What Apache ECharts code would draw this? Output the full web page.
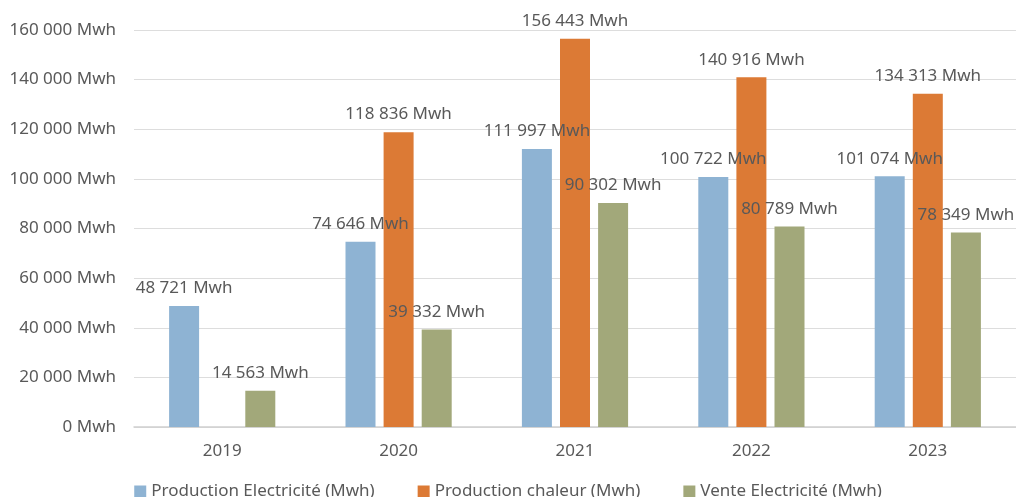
<!DOCTYPE html>
<html><head><meta charset="utf-8">
<script src="https://cdn.jsdelivr.net/npm/echarts@6/dist/echarts.min.js"></script>
<style>html,body{margin:0;padding:0;background:#fff}#c{width:1016px;height:497px}</style>
</head><body><div id="c"></div>
<script>
const categories = ['2019','2020','2021','2022','2023'];
const seriesNames = ['Production Electricité (Mwh)','Production chaleur (Mwh)','Vente Electricité (Mwh)'];
const prodElec = [48721, 74646, 111997, 100722, 101074];
const prodChaleur = [null, 118836, 156443, 140916, 134313];
const venteElec = [14563, 39332, 90302, 80789, 78349];
const colors = ['#8EB3D3','#DC7A35','#A2A87A'];

function fmt(v){
  return String(Math.round(v)).replace(/\B(?=(\d{3})+(?!\d))/g,' ') + ' Mwh';
}
const font = 'Noto Sans';
const fs = 17;
const txt = '#595959';
const chart = echarts.init(document.getElementById('c'));
const mk = (name, data, i) => ({
  name, type:'bar', data, barWidth:30, barGap:'27%',
  itemStyle:{color:colors[i]},
  label:{show:true, position:'top', distance:9, color:txt, fontSize:fs, fontFamily:font,
    formatter:p=>fmt(p.value)}
});
chart.setOption({
  animation:false,
  grid:{left:134, right:0, top:30, bottom:70, containLabel:false},
  legend:{top:478, left:'center', icon:'rect', itemWidth:12, itemHeight:12, itemGap:43,
    textStyle:{color:txt, fontSize:fs, fontFamily:font}, data:seriesNames},
  xAxis:{type:'category', data:categories,
    axisLine:{lineStyle:{color:'#D0D0D0', width:1.5}}, axisTick:{show:false},
    axisLabel:{color:txt, fontSize:fs, fontFamily:font, margin:16}},
  yAxis:{type:'value', min:0, max:160000, interval:20000,
    axisLine:{show:false}, axisTick:{show:false},
    splitLine:{lineStyle:{color:'#DDDDDD', width:1.2}},
    axisLabel:{color:txt, fontSize:fs, fontFamily:font, margin:18, formatter:fmt}},
  series:[mk(seriesNames[0],prodElec,0), mk(seriesNames[1],prodChaleur,1), mk(seriesNames[2],venteElec,2)]
});
</script></body></html>
